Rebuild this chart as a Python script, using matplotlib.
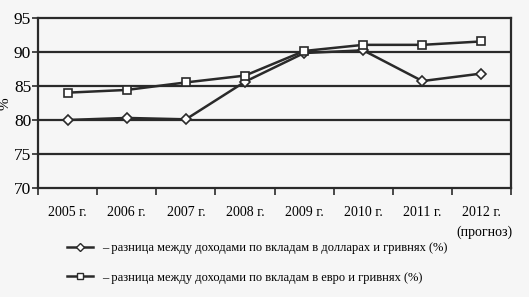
import matplotlib

matplotlib.use("Agg")
import matplotlib.pyplot as plt
from matplotlib.lines import Line2D

# ---- data
years = ["2005 г.", "2006 г.", "2007 г.", "2008 г.", "2009 г.", "2010 г.", "2011 г.", "2012 г."]
usd_uah = [80.0, 80.3, 80.1, 85.6, 89.8, 90.2, 85.7, 86.8]
eur_uah = [84.0, 84.4, 85.5, 86.5, 90.1, 91.0, 91.0, 91.5]
labels = [
    "– разница между доходами по вкладам в долларах и гривнях (%)",
    "– разница между доходами по вкладам в евро и гривнях (%)",
]

plt.rcParams["font.family"] = ["Liberation Serif", "DejaVu Serif"]
INK = "#2a2a2a"
BG = "#f6f6f6"

fig = plt.figure(figsize=(5.29, 2.97), dpi=100, facecolor=BG)
ax = fig.add_axes([0.072, 0.366, 0.894, 0.575], facecolor=BG)

x = list(range(len(years)))
ax.plot(x, usd_uah, color=INK, lw=1.8, marker="D", ms=5, mfc="white", mec=INK, mew=1.2, zorder=3)
ax.plot(x, eur_uah, color=INK, lw=1.8, marker="s", ms=5.5, mfc="white", mec=INK, mew=1.2, zorder=3)

ax.set_xlim(-0.5, len(years) - 0.5)
ax.set_ylim(70, 95)
ax.set_yticks([70, 75, 80, 85, 90, 95])
for yv in [75, 80, 85, 90]:
    ax.axhline(yv, color=INK, lw=1.6, zorder=1)

ax.set_xticks(x)
ax.set_xticklabels(years, fontsize=10)
ax.set_xticks([i - 0.5 for i in range(len(years) + 1)], minor=True)
ax.tick_params(axis="x", which="major", length=0, pad=13)
ax.tick_params(axis="x", which="minor", length=5, width=1.2, color=INK, direction="out")
ax.tick_params(axis="y", length=4, width=1.2, color=INK, labelsize=12.5, pad=1)
for s in ax.spines.values():
    s.set_color(INK)
    s.set_linewidth(1.6)

fig.text(5 / 529, 1 - 104 / 297, "%", rotation=90, ha="center", va="center", fontsize=11)
fig.text(484 / 529, 1 - 232 / 297, "(прогноз)", ha="center", va="center", fontsize=10)

handles = [
    Line2D([], [], color=INK, lw=1.8, marker="D", ms=4.5, mfc="white", mec=INK, mew=1.0),
    Line2D([], [], color=INK, lw=1.8, marker="s", ms=5, mfc="white", mec=INK, mew=1.0),
]
fig.legend(handles, labels, loc="upper left", bbox_to_anchor=(67 / 529, 1 - 242 / 297),
           frameon=False, fontsize=9, handlelength=2.1, handletextpad=0.7,
           labelspacing=1.4, borderaxespad=0, borderpad=0)

fig.savefig("out.png", dpi=100, facecolor=BG)
